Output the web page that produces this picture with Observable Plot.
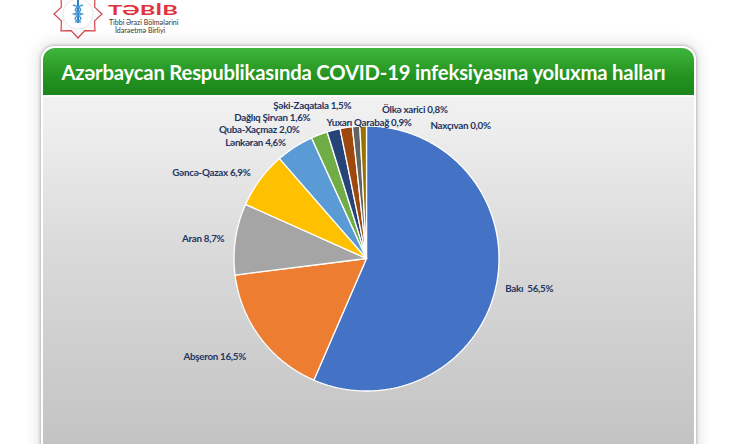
<!DOCTYPE html>
<html><head><meta charset="utf-8">
<script src="https://cdn.jsdelivr.net/npm/d3@7"></script>
<script src="https://cdn.jsdelivr.net/npm/@observablehq/plot@0.6"></script>
<style>
html,body{margin:0;padding:0;background:#fff;width:748px;height:444px;overflow:hidden;font-family:Lato,"Open Sans",sans-serif;}
#panel{position:absolute;left:41px;top:46px;width:651px;height:440px;border-radius:14px;
  background:linear-gradient(#f5f5f5 0px,#efefef 70px,#dadada 200px,#c3c3c3 398px);
  border:2px solid #fff;box-shadow:0 0 3px 1px rgba(0,0,0,0.22),0 0 14px 4px rgba(0,0,0,0.10);overflow:hidden}
#header{position:absolute;left:0;top:0;width:100%;height:49px;background:linear-gradient(#3fb53c,#23931f 60%,#1b861b);
  border-bottom:2px solid #fafafa;color:#fff;font-weight:700;font-size:20.3px;text-align:center;line-height:48px;letter-spacing:-0.2px;box-sizing:border-box;padding-right:10px}
#chart{position:absolute;left:0;top:0}
#logo{position:absolute;left:0;top:0}
</style></head>
<body>
<svg id="logo" width="200" height="42" viewBox="0 0 200 42">
  <g transform="translate(78,14)">
    <polygon id="star" fill="#fbfbfb" stroke="#d2434b" stroke-width="1.2"/>
    <circle r="15" fill="#fff" stroke="#e8e8e8" stroke-width="1"/>
    <path d="M-11,2 A11,11 0 0 0 11,2 A9,9 0 0 1 -11,2 Z" fill="#d8303a"/>
    <line x1="0" y1="-14" x2="0" y2="9" stroke="#2f7fc1" stroke-width="2"/>
    <path d="M-5,-9 C5,-6 5,-3 -4,0 C5,3 5,6 -3,8" fill="none" stroke="#4a9ad6" stroke-width="1.5"/>
    <path d="M5,-9 C-5,-6 -5,-3 4,0 C-5,3 -5,6 3,8" fill="none" stroke="#4a9ad6" stroke-width="1.5"/>
  </g>
  <text x="108" y="14.5" font-family="Lato,sans-serif" font-weight="700" font-size="14" fill="#e0333c" textLength="70" lengthAdjust="spacingAndGlyphs">TƏBİB</text>
  <text x="109" y="24.5" font-family="Lato,sans-serif" font-size="7" fill="#333">Tibbi Ərazi Bölmələrini</text>
  <text x="115" y="32.5" font-family="Lato,sans-serif" font-size="7" fill="#333">İdarəetmə Birliyi</text>
</svg>
<div id="panel"><div id="header">Azərbaycan Respublikasında COVID-19 infeksiyasına yoluxma halları</div></div>
<div id="chart"></div>
<script>
// ---- data ----
const regions = ["Bakı","Abşeron","Aran","Gəncə-Qazax","Lənkəran","Quba-Xaçmaz","Dağlıq Şirvan","Şəki-Zaqatala","Yuxarı Qarabağ","Ölkə xarici","Naxçıvan"];
const shares  = [56.5, 16.5, 8.7, 6.9, 4.6, 2.0, 1.6, 1.5, 0.9, 0.8, 0.0];
const labelText = ["Bakı\u00a0 56,5%","Abşeron 16,5%","Aran 8,7%","Gəncə-Qazax 6,9%","Lənkəran 4,6%","Quba-Xaçmaz 2,0%","Dağlıq Şirvan 1,6%","Şəki-Zaqatala 1,5%","Yuxarı Qarabağ 0,9%","Ölkə xarici 0,8%","Naxçıvan 0,0%"];
const sliceColors = ["#4472C4","#ED7D31","#A5A5A5","#FFC000","#5B9BD5","#70AD47","#264478","#9E480E","#636363","#997300","#43682B"];

// ---- layout (label placement, not data) ----
const labelAnchor = ["start","end","end","end","end","end","end","middle","middle","middle","start"];
const labelNudge  = [[-4,1],[-4,11],[2,1.5],[1,1],[-2,6.5],[-15,8],[-20,1],[-32,-8.5],[14,9.5],[52,-3],[64,13]];

// star polygon for logo
(function(){const p=[];for(let i=0;i<16;i++){const a=i*Math.PI/8;const r=i%2?18:24;p.push([r*Math.sin(a),-r*Math.cos(a)].join(","));}document.getElementById("star").setAttribute("points",p.join(" "));})();

const cx = 366, cy = 258, R = 132.5;
const total = d3.sum(shares);
const ends = d3.cumsum(shares);
const slicePts = [];
regions.forEach((name, i) => {
  if (shares[i] <= 0) return;
  const a0 = (ends[i] - shares[i]) / total * 2 * Math.PI;
  const a1 = ends[i] / total * 2 * Math.PI;
  const n = Math.max(2, Math.ceil((a1 - a0) / (Math.PI / 360)));
  slicePts.push({region: name, x: 0, y: 0});
  for (let k = 0; k <= n; k++) {
    const a = a0 + (a1 - a0) * k / n;
    slicePts.push({region: name, x: Math.sin(a), y: Math.cos(a)});
  }
  slicePts.push({region: name, x: 0, y: 0});
});

const labelMarks = regions.map((name, i) => {
  const mid = (ends[i] - shares[i] / 2) / total * 2 * Math.PI;
  return Plot.text([{x: 1.1 * Math.sin(mid), y: 1.1 * Math.cos(mid), t: labelText[i]}], {
    x: "x", y: "y", text: "t", textAnchor: labelAnchor[i],
    dx: labelNudge[i][0], dy: labelNudge[i][1],
    fill: "#1f3561", fontWeight: "bold", fontSize: 9.8, fontFamily: "Lato, sans-serif"
  });
});

const chart = Plot.plot({
  width: 748, height: 444, margin: 0,
  x: {domain: [-1, 1], range: [cx - R, cx + R], axis: null},
  y: {domain: [-1, 1], range: [cy + R, cy - R], axis: null},
  color: {domain: regions, range: sliceColors},
  style: {background: "transparent", overflow: "visible"},
  marks: [
    Plot.line(slicePts, {x: "x", y: "y", z: "region", fill: "region", stroke: "#ffffff", strokeWidth: 1.3, strokeLinejoin: "miter"}),
    ...labelMarks
  ]
});
chart.querySelectorAll("g[aria-label=text] text").forEach(t => t.style.letterSpacing = "-0.3px");
document.getElementById("chart").appendChild(chart);
</script>
</body></html>
